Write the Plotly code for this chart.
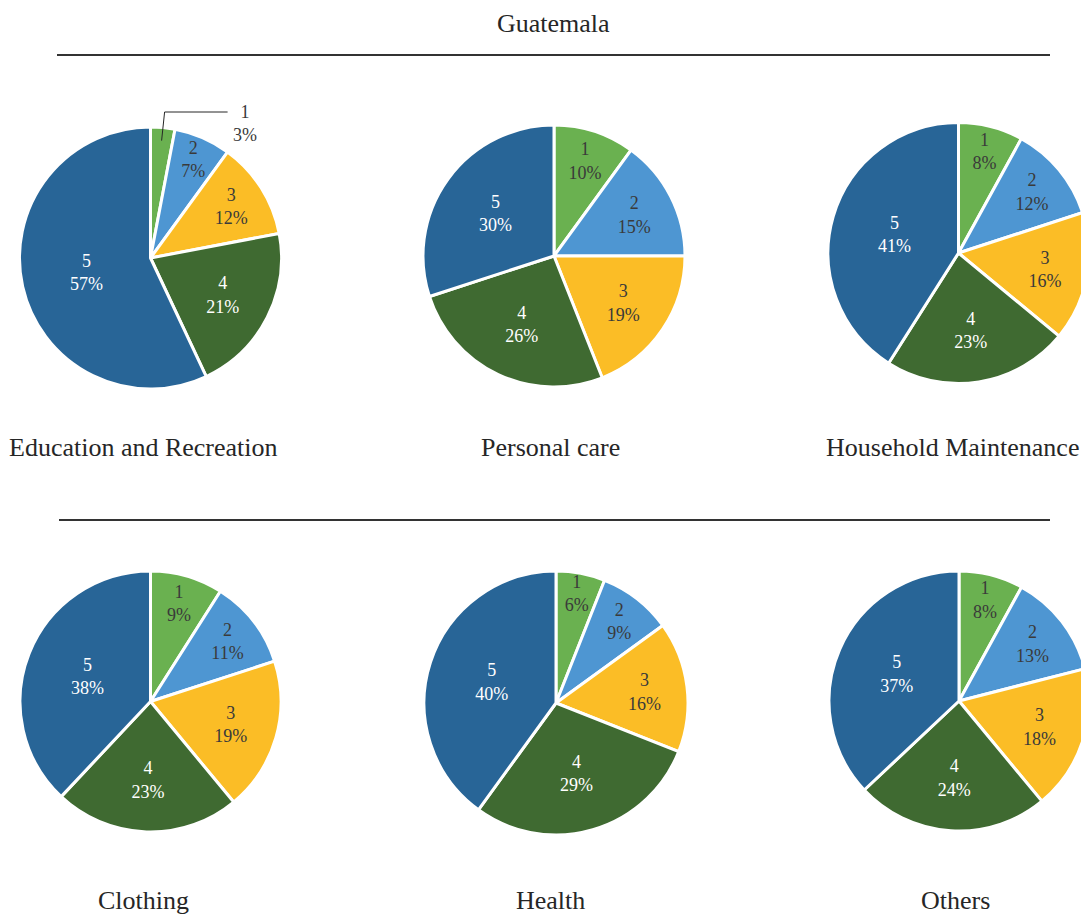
import math
import plotly.graph_objects as go

W, H = 1089, 916          # window size
OFF = 8                   # default page body margin
FW, FH = W - OFF, H - OFF  # figure size

title_text = "Guatemala"
labels = ["1", "2", "3", "4", "5"]
categories = ["Education and Recreation", "Personal care", "Household Maintenance",
              "Clothing", "Health", "Others"]
education = [3, 7, 12, 21, 57]
personal_care = [10, 15, 19, 26, 30]
household = [8, 12, 16, 23, 41]
clothing = [9, 11, 19, 23, 38]
health = [6, 9, 16, 29, 40]
others = [8, 13, 18, 24, 37]
series = [education, personal_care, household, clothing, health, others]

colors = ["#6ab150", "#4e96d2", "#fbbd26", "#3f6a31", "#286597"]
text_colors = ["#3a3a3a", "#3a3a3a", "#3a3a3a", "#ffffff", "#ffffff"]

# pie centres / radii in window pixels (layout)
geo = [
    (150.5, 258, 131), (554, 256, 131), (958.5, 253, 130.5),
    (150.5, 701.5, 130.5), (556, 703, 132), (959, 701, 130),
]
title_pos = [(143.5, 447), (550, 447), (952, 447), (143.5, 900), (550, 900), (955, 900)]

FONT = "Liberation Serif"


def px2x(X):
    return max(0.0, min(1.0, (X - OFF) / FW))


def px2y(Y):
    return max(0.0, min(1.0, 1 - (Y - OFF) / FH))


fig = go.Figure()
annotations = []
for i, (vals, cat) in enumerate(zip(series, categories)):
    cx, cy, r = geo[i]
    dom = dict(x=[px2x(cx - r), px2x(cx + r)], y=[px2y(cy + r), px2y(cy - r)])
    templates = ["%{label}<br>%{percent}"] * 5
    if i == 0:
        templates[0] = ""
    fig.add_trace(go.Pie(
        labels=labels, values=vals, sort=False, direction="clockwise", rotation=0,
        domain=dom, marker=dict(colors=colors, line=dict(color="white", width=3)),
        texttemplate=templates, textinfo="label+percent", textposition="inside",
        insidetextorientation="horizontal",
        insidetextfont=dict(family=FONT, size=18, color=text_colors),
        showlegend=False, hoverinfo="label+percent",
    ))
    tx, ty = title_pos[i]
    annotations.append(dict(text=cat, x=px2x(tx), y=px2y(ty), xref="paper", yref="paper",
                            showarrow=False, xanchor="center", yanchor="middle",
                            font=dict(family=FONT, size=26, color="#262626")))

# outside label with elbow leader line for the small first slice of the first pie
cx, cy, r = geo[0]
v = education
ang = math.radians(360 * v[0] / 2 / sum(v))
sx = cx + 0.9 * r * math.sin(ang)
sy = cy - 0.9 * r * math.cos(ang)
ey = cy - r - 15
pct = round(100 * v[0] / sum(v))
annotations.append(dict(text=f"{labels[0]}<br>{pct}%", x=px2x(sx + 83), y=px2y(ey + 11),
                        xref="paper", yref="paper", showarrow=False,
                        xanchor="center", yanchor="middle",
                        font=dict(family=FONT, size=18, color="#3a3a3a")))

annotations.append(dict(text=title_text, x=px2x(554), y=1, xref="paper", yref="paper",
                        showarrow=False, xanchor="center", yanchor="top", borderpad=0,
                        font=dict(family=FONT, size=26, color="#262626")))

shapes = [
    dict(type="line", xref="paper", yref="paper", x0=px2x(57), x1=px2x(1050),
         y0=px2y(55), y1=px2y(55), line=dict(color="#333333", width=2)),
    dict(type="line", xref="paper", yref="paper", x0=px2x(59), x1=px2x(1050),
         y0=px2y(520), y1=px2y(520), line=dict(color="#333333", width=2)),
    dict(type="path", xref="paper", yref="paper",
         path=(f"M {px2x(sx)},{px2y(sy)} L {px2x(sx + 3)},{px2y(ey)} "
               f"L {px2x(sx + 66)},{px2y(ey)}"),
         line=dict(color="#262626", width=1)),
]

fig.update_layout(width=FW, height=FH, margin=dict(l=0, r=0, t=0, b=0),
                  paper_bgcolor="white", plot_bgcolor="white",
                  annotations=annotations, shapes=shapes,
                  uniformtext=dict(minsize=18, mode="show"),
                  font=dict(family=FONT))
fig.write_html("out.html")
